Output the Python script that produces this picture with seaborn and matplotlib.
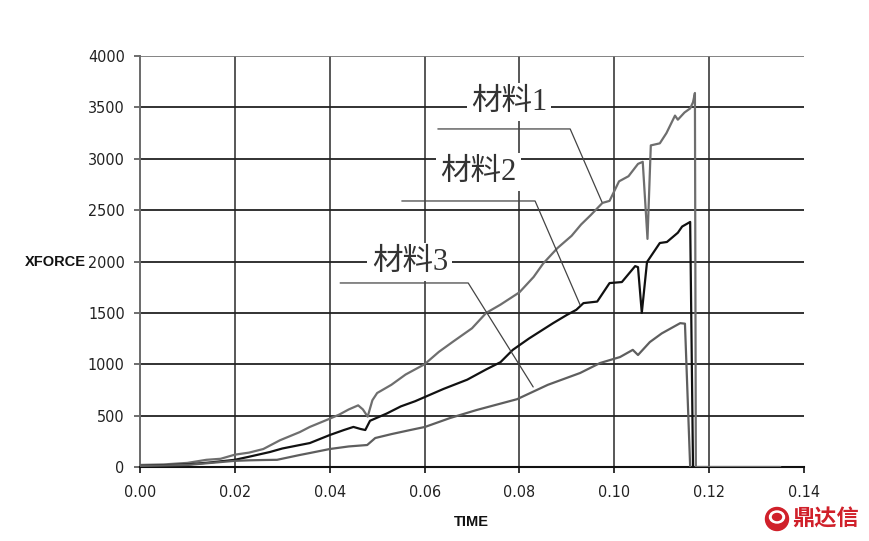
import numpy as np
import pandas as pd
import matplotlib
matplotlib.use('Agg')
import matplotlib.pyplot as plt
from matplotlib.patches import Ellipse
import seaborn as sns

# values
t1 = [0.000, 0.005, 0.010, 0.014, 0.017, 0.020, 0.023, 0.026, 0.0295, 0.0337, 0.0358,
      0.040, 0.042, 0.044, 0.046, 0.047, 0.048, 0.049, 0.050, 0.053, 0.056, 0.060, 0.063,
      0.066, 0.070, 0.073, 0.076, 0.080, 0.083, 0.085, 0.088, 0.091, 0.093, 0.095, 0.0975,
      0.099, 0.101, 0.103, 0.105, 0.106, 0.107, 0.1077, 0.1096, 0.111, 0.1128, 0.1134,
      0.1148, 0.116, 0.1166, 0.117, 0.1172, 0.135]
f1 = [20, 25, 40, 70, 80, 120, 140, 175, 260, 340, 390,
      470, 510, 560, 600, 560, 490, 650, 720, 800, 900, 1000, 1120,
      1220, 1350, 1500, 1580, 1700, 1850, 1980, 2130, 2250, 2360, 2450, 2570,
      2590, 2780, 2830, 2950, 2970, 2220, 3130, 3150, 3250, 3420, 3380,
      3450, 3490, 3550, 3640, 0, 0]

t2 = [0.000, 0.010, 0.015, 0.020, 0.023, 0.0274, 0.030, 0.0337, 0.0358, 0.040, 0.043,
      0.045, 0.0465, 0.0475, 0.0485, 0.052, 0.055, 0.058, 0.060, 0.064, 0.069, 0.073,
      0.076, 0.0786, 0.082, 0.0871, 0.090, 0.092, 0.0935, 0.0964, 0.099, 0.1016, 0.1044,
      0.105, 0.1058, 0.1069, 0.1096, 0.1111, 0.1134, 0.1143, 0.116, 0.1166]
f2 = [10, 25, 45, 70, 100, 146, 180, 214, 233, 311, 360,
      390, 370, 360, 450, 520, 590, 640, 680, 760, 850, 950,
      1020, 1140, 1250, 1400, 1480, 1530, 1595, 1610, 1790, 1800, 1955,
      1945, 1500, 1995, 2180, 2190, 2280, 2340, 2385, 0]

t3 = [0.000, 0.010, 0.015, 0.020, 0.023, 0.026, 0.0289, 0.0337, 0.0358, 0.040, 0.044,
      0.0479, 0.0496, 0.053, 0.057, 0.0601, 0.0654, 0.071, 0.0795, 0.086, 0.0928, 0.097,
      0.1012, 0.1039, 0.105, 0.1075, 0.110, 0.1139, 0.1149, 0.116]
f3 = [10, 20, 40, 60, 65, 68, 70, 117, 136, 175, 200,
      214, 282, 320, 360, 390, 477, 555, 660, 800, 915, 1012,
      1070, 1140, 1090, 1216, 1300, 1400, 1395, 0]

names = ['材料1', '材料2', '材料3']
x_ticks = [0.00, 0.02, 0.04, 0.06, 0.08, 0.10, 0.12, 0.14]
y_ticks = [0, 500, 1000, 1500, 2000, 2500, 3000, 3500, 4000]

df = pd.concat([
    pd.DataFrame({'TIME': t1, 'XFORCE': f1, 'mat': names[0]}),
    pd.DataFrame({'TIME': t2, 'XFORCE': f2, 'mat': names[1]}),
    pd.DataFrame({'TIME': t3, 'XFORCE': f3, 'mat': names[2]}),
])

sns.set_style('white')
plt.rcParams['font.family'] = ['DejaVu Sans']
plt.rcParams['font.stretch'] = 'condensed'

fig = plt.figure(figsize=(8.69, 5.41), dpi=100)
ax = fig.add_axes([140 / 869, 74 / 541, 664 / 869, 411 / 541])

# grid drawn by hand (no line at 0.14)
for x in x_ticks[1:-1]:
    ax.axvline(x, color='#4a4a4a', lw=1.3, zorder=1)
for y in y_ticks[1:-1]:
    ax.axhline(y, color='#222222', lw=1.3, zorder=1)
ax.axhline(y_ticks[-1], color='#7a7a7a', lw=1.3, zorder=1)

colors = {'材料1': '#6e6e6e', '材料2': '#111111', '材料3': '#5e5e5e'}
sns.lineplot(data=df, x='TIME', y='XFORCE', hue='mat', palette=colors,
             estimator=None, sort=False, lw=1.6, legend=False, ax=ax, zorder=3)

ax.set_xlim(0, 0.14)
ax.set_ylim(0, 4000)
ax.set_xticks(x_ticks)
ax.set_xticklabels([f'{v:.2f}' for v in x_ticks])
ax.set_yticks(y_ticks)
ax.set_yticklabels([str(v) for v in y_ticks])
ax.set_xlabel('')
ax.set_ylabel('')
ax.tick_params(axis='both', labelsize=11.5, colors='#222222', length=4, width=1.2)
ax.tick_params(axis='y', pad=7, left=True, color='#555555')
ax.tick_params(axis='x', pad=9, bottom=True, color='#111111')
for s in ['top', 'right']:
    ax.spines[s].set_visible(False)
ax.spines['left'].set_color('#6a6a6a')
ax.spines['left'].set_linewidth(1.4)
ax.spines['bottom'].set_color('#111111')
ax.spines['bottom'].set_linewidth(1.5)

# labels with leader lines
lab_font = ['Liberation Serif', 'Noto Sans CJK SC']
labels = [
    (names[0], 0.0778, 3552, [0.0628, 0.0907, 0.0974], [3290, 3290, 2579]),
    (names[1], 0.0713, 2871, [0.0552, 0.0833, 0.0928], [2589, 2589, 1577]),
    (names[2], 0.0569, 1995, [0.0422, 0.0692, 0.0829], [1791, 1791, 779]),
]
for txt, tx, ty, lx, ly in labels:
    ax.plot(lx, ly, color='#444444', lw=0.9, zorder=4)
    ax.text(tx, ty, txt, family=lab_font, fontsize=22, color='#333333',
            stretch='normal', ha='center', va='center', zorder=5,
            bbox=dict(facecolor='white', edgecolor='none', pad=3))

fig.text(25 / 869, 1 - 262 / 541, 'XFORCE', family=['Liberation Sans', 'DejaVu Sans'],
         stretch='normal', fontsize=10.5, fontweight='bold', color='#111111',
         ha='left', va='center')
fig.text(471 / 869, 1 - 522 / 541, 'TIME', family=['Liberation Sans', 'DejaVu Sans'],
         stretch='normal', fontsize=10.5, fontweight='bold', color='#111111',
         ha='center', va='center')

# watermark
red = '#d0202a'
fig.add_artist(Ellipse((777 / 869, 1 - 519 / 541), 23 / 869, 23 / 541, color=red))
fig.add_artist(Ellipse((777 / 869, 1 - 517 / 541), 15 / 869, 12 / 541, color='white'))
fig.add_artist(Ellipse((777 / 869, 1 - 517 / 541), 9 / 869, 7 / 541, color=red))
fig.text(826 / 869, 1 - 519 / 541, '鼎达信', family=['Noto Sans CJK SC'], stretch='normal',
         fontsize=16, fontweight='bold', color=red, ha='center', va='center')

fig.savefig('out.png', dpi=100)
